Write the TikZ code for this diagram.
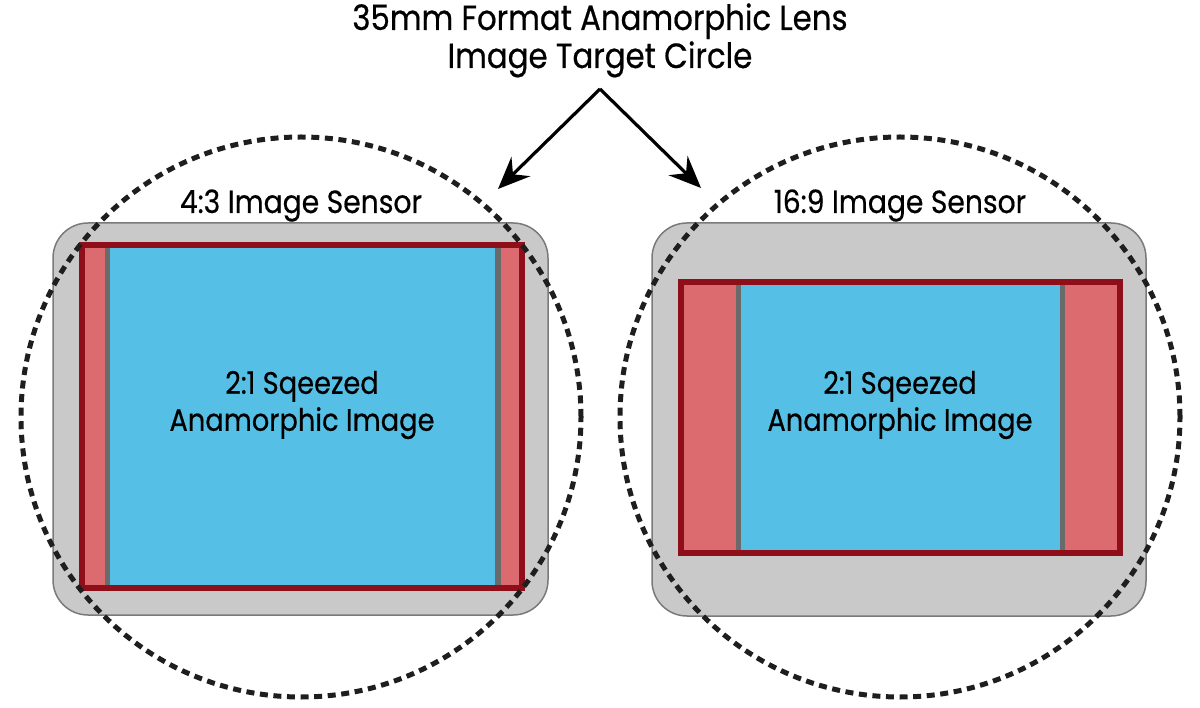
\documentclass[tikz,border=0pt]{standalone}
\usepackage{fontspec}
\setmainfont{Poppins}
\newfontfamily\narrowfont[FakeStretch=0.88,FakeBold=0.5]{Poppins}
\usetikzlibrary{arrows.meta}
\definecolor{sensorgray}{HTML}{C9C9C9}
\definecolor{sensoredge}{HTML}{7A7A7A}
\definecolor{framered}{HTML}{8E0E1A}
\definecolor{sidepink}{HTML}{DB6B6E}
\definecolor{imgblue}{HTML}{56BFE5}
\definecolor{bargray}{HTML}{6A6A6A}
\definecolor{dashblack}{HTML}{1E1E1E}
\begin{document}
\begin{tikzpicture}[x=1pt,y=-1pt,
  sensor/.style={rectangle, rounded corners=35pt, fill=sensorgray, draw=sensoredge, line width=1.5pt, inner sep=0pt},
  frame/.style={rectangle, fill=sidepink, draw=framered, line width=6pt, inner sep=0pt},
  framebd/.style={rectangle, draw=framered, line width=6pt, inner sep=0pt},
  bar/.style={rectangle, fill=bargray, inner sep=0pt},
  blue/.style={rectangle, fill=imgblue, inner sep=0pt},
  slbl/.style={font=\narrowfont\fontsize{32}{36}\selectfont, align=center, inner sep=0pt},
  lbl/.style={font=\narrowfont\fontsize{31}{37}\selectfont, align=center, inner sep=0pt},
  ttl/.style={font=\narrowfont\fontsize{35}{38}\selectfont, align=center, inner sep=0pt},
  target/.style={circle, draw=dashblack, line width=5pt, dash pattern=on 8pt off 5.6pt, inner sep=0pt, minimum size=560pt},
  pointer/.style={draw=black, line width=3.2pt, -{Stealth[length=32pt, width=27pt, inset=11pt]}}
]
\useasboundingbox (0,0) rectangle (1200,708);
% sensors
\node[sensor, minimum width=495pt, minimum height=392pt] (s1) at (300.5,419) {};
\node[sensor, minimum width=494pt, minimum height=393pt] (s2) at (899,419.5) {};
% left image (4:3)
\node[frame, minimum width=440pt, minimum height=343pt] (f1) at (302,416.5) {};
\node[bar, minimum width=396pt, minimum height=337pt] (g1) at (303,416.5) {};
\node[blue, minimum width=385pt, minimum height=337pt] (b1) at (302.5,416.5) {};
\node[framebd, minimum width=440pt, minimum height=343pt] (fb1) at (302,416.5) {};
% right image (16:9)
\node[frame, minimum width=439pt, minimum height=271pt] (f2) at (900.5,417.5) {};
\node[bar, minimum width=329pt, minimum height=265pt] (g2) at (900.5,417.5) {};
\node[blue, minimum width=319pt, minimum height=265pt] (b2) at (900.5,417.5) {};
\node[framebd, minimum width=439pt, minimum height=271pt] (fb2) at (900.5,417.5) {};
% labels
\node[slbl, anchor=base] (l1) at (301,213) {4:3 Image Sensor};
\node[slbl, anchor=base] (l2) at (900,213) {16:9 Image Sensor};
\node[lbl] (t1) at (302,405) {2:1 Sqeezed\\Anamorphic Image};
\node[lbl] (t2) at (900,405) {2:1 Sqeezed\\Anamorphic Image};
% target circles
\node[target] (c1) at (301,417) {};
\node[target] (c2) at (900,417) {};
% title and pointers
\node[ttl, anchor=base] (title) at (600,68) {35mm Format Anamorphic Lens\\Image Target Circle};
\coordinate (apex) at (600,89);
\coordinate (tipL) at (498,189);
\coordinate (tipR) at (701,188);
\draw[pointer] (apex) -- (tipL);
\draw[pointer] (apex) -- (tipR);
\end{tikzpicture}
\end{document}
